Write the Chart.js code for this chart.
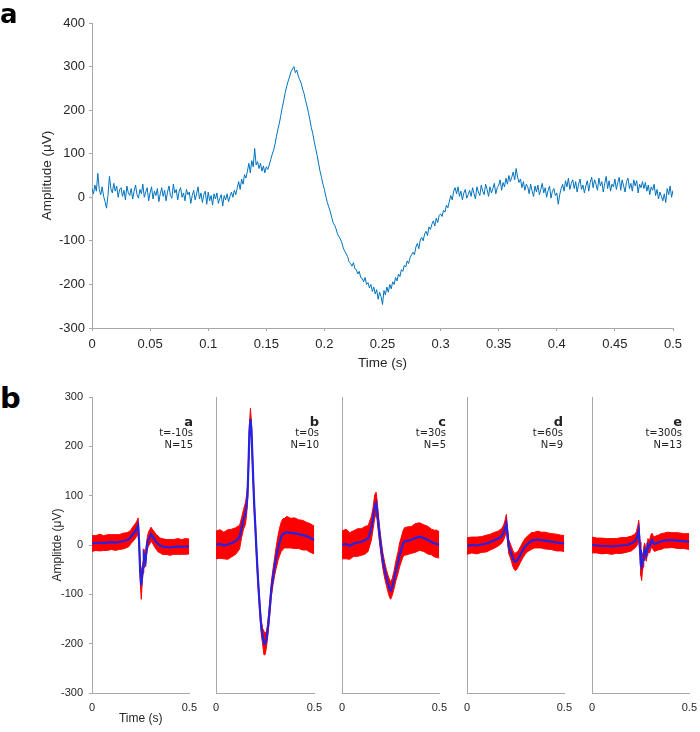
<!DOCTYPE html>
<html>
<head>
<meta charset="utf-8">
<script src="https://cdn.jsdelivr.net/npm/chart.js@4.4.1/dist/chart.umd.min.js"></script>
<style>
  body { margin: 0; background: #fff; }
  #page { position: relative; width: 700px; height: 732px; overflow: hidden; background: #fff; }
  canvas { position: absolute; }
  .panel { position: absolute; left: 0; font-family: "DejaVu Sans"; font-weight: bold; line-height: 1; color: #000; }
  .note { position: absolute; text-align: right; line-height: 1; color: #222; font-family: "DejaVu Sans"; white-space: nowrap; }
</style>
</head>
<body>
<div id="page">
  <canvas id="trace" width="700" height="375" style="left:0;top:0"></canvas>
  <div class="panel" style="top:1px;font-size:26px">a</div>
  <div class="panel" style="top:384px;font-size:29px">b</div>
</div>
<script>
"use strict";

// ---- panel a: single trace, one value every 1.25 ms ----
const sampleStep = 0.00125;
const traceValues = [
    20, 8, 28, 14, 55, 18, 6, 24, 2, -10, -25, 4, 48, 20, 10, 32, 14, 26, 0, 18,
    22, 2, 16, -6, 26, 10, 4, 20, -4, 14, 28, 6, -2, 18, 8, 30, 0, 12, 22, -8,
    10, 24, -4, 14, 4, 20, -10, 8, 22, 2, 16, -8, 12, 26, 4, -2, 30, 10, 18, -6,
    14, 22, 0, 10, -8, 18, 6, 12, -14, 4, 16, -6, 8, 24, -4, 10, -12, 6, 14, -16,
    12, -8, 4, -18, 8, -4, 10, -14, -2, 6, -20, 4, -6, 8, -10, 2, 12, 0, 16, 6,
    22, 36, 18, 42, 30, 52, 44, 60, 78, 56, 84, 70, 112, 74, 82, 66, 78, 60, 72, 56,
    70, 64, 74, 86, 98, 108, 122, 140, 156, 170, 188, 206, 222, 240, 254, 266, 276, 288, 294, 300,
    286, 292, 278, 270, 262, 248, 238, 222, 210, 194, 178, 160, 146, 128, 112, 96, 78, 60, 46, 30,
    18, 2, -12, -22, -32, -46, -58, -64, -72, -84, -90, -96, -104, -116, -124, -130, -136, -148, -152, -158,
    -150, -164, -166, -176, -170, -184, -186, -194, -184, -200, -196, -208, -200, -216, -206, -222, -212, -234, -218, -228,
    -246, -214, -224, -206, -218, -200, -210, -194, -200, -184, -192, -176, -182, -166, -170, -156, -160, -146, -152, -138,
    -132, -126, -132, -114, -106, -118, -98, -92, -100, -84, -78, -88, -68, -74, -62, -54, -66, -48, -58, -42,
    -38, -44, -30, -34, -18, -24, -10, 4, -6, 14, 22, 8, 24, 2, 14, -6, 10, 18, -2, 6,
    16, 2, 22, 8, -4, 24, 12, 4, 28, 14, 6, 30, 18, 2, 24, 10, 20, 32, 8, 22,
    28, 40, 16, 34, 24, 44, 30, 50, 36, 46, 58, 40, 66, 46, 34, 42, 22, 36, 16, 30,
    24, 8, 30, 14, 2, 26, 12, 28, 6, 18, 32, 10, 22, 0, 16, 26, -2, 14, 20, 4,
    10, -16, 6, 20, 30, 14, 38, 24, 44, 18, 32, 40, 20, 36, 12, 30, 42, 18, 28, 10,
    26, 38, 14, 34, 46, 22, 40, 30, 16, 44, 26, 36, 12, 32, 48, 20, 38, 14, 30, 24,
    42, 18, 34, 46, 16, 40, 26, 12, 36, 44, 20, 32, 14, 40, 26, 38, 10, 30, 22, 36,
    20, 34, 14, 28, 6, 24, 16, 30, 4, 18, -4, 12, 2, -8, 8, -12, 20, 6, 26, 0,
    16
];
const traceTimeTicks = [0, 0.05, 0.1, 0.15, 0.2, 0.25, 0.3, 0.35, 0.4, 0.45, 0.5];
const traceAmpTicks = [-300, -200, -100, 0, 100, 200, 300, 400];

// ---- panel b: five recordings, envelope (mean +/- spread) and mean ----
const unitNames = ['a', 'b', 'c', 'd', 'e'];
const unitTimeLabels = ['t=-10s', 't=0s', 't=30s', 't=60s', 't=300s'];
const unitCountLabels = ['N=15', 'N=10', 'N=5', 'N=9', 'N=13'];

const unitATimes = [0, 0.02, 0.04, 0.06, 0.08, 0.1, 0.12, 0.14, 0.16, 0.18, 0.19, 0.2, 0.21, 0.22, 0.23, 0.237, 0.242, 0.247, 0.253, 0.258, 0.262, 0.266, 0.27, 0.275, 0.28, 0.285, 0.29, 0.296, 0.303, 0.31, 0.32, 0.33, 0.34, 0.35, 0.36, 0.38, 0.4, 0.42, 0.44, 0.46, 0.48, 0.5];
const unitAMean = [3, 4, 5, 4, 5, 6, 5, 6, 8, 10, 12, 17, 22, 27, 33, 40, 5, -50, -82, -60, -45, -20, -25, -32, -8, 5, 12, 16, 22, 18, 12, 6, 2, -1, -3, -4, -5, -4, -3, -4, -3, -3];
const unitASpread = [16, 15, 17, 15, 16, 15, 16, 15, 16, 15, 15, 14, 15, 15, 15, 15, 15, 20, 28, 15, 12, 12, 12, 12, 13, 13, 14, 15, 14, 14, 15, 15, 16, 15, 16, 15, 16, 15, 16, 15, 16, 15];

const unitBTimes = [0, 0.02, 0.04, 0.06, 0.08, 0.1, 0.12, 0.13, 0.14, 0.15, 0.155, 0.16, 0.165, 0.17, 0.175, 0.18, 0.185, 0.19, 0.195, 0.2, 0.205, 0.21, 0.215, 0.22, 0.225, 0.23, 0.237, 0.244, 0.25, 0.256, 0.262, 0.268, 0.275, 0.281, 0.29, 0.298, 0.306, 0.315, 0.323, 0.332, 0.34, 0.348, 0.36, 0.38, 0.4, 0.42, 0.44, 0.46, 0.48, 0.5];
const unitBMean = [0, 2, -1, 1, 4, 8, 16, 35, 52, 64, 80, 100, 160, 230, 255, 235, 180, 125, 75, 37, -5, -44, -80, -111, -140, -166, -185, -199, -200, -193, -175, -152, -120, -91, -64, -44, -25, -7, 6, 17, 22, 24, 26, 24, 24, 22, 20, 18, 14, 10];
const unitBSpread = [28, 29, 27, 30, 28, 27, 24, 20, 20, 22, 20, 18, 15, 14, 22, 16, 14, 12, 12, 12, 12, 12, 12, 12, 12, 14, 16, 24, 22, 16, 14, 14, 14, 15, 16, 18, 22, 25, 28, 30, 31, 30, 32, 30, 31, 29, 30, 28, 29, 28];

const unitCTimes = [0, 0.02, 0.04, 0.06, 0.08, 0.1, 0.12, 0.134, 0.151, 0.16, 0.168, 0.175, 0.18, 0.185, 0.193, 0.202, 0.21, 0.219, 0.228, 0.236, 0.244, 0.25, 0.258, 0.267, 0.277, 0.287, 0.296, 0.304, 0.313, 0.321, 0.34, 0.355, 0.375, 0.398, 0.42, 0.44, 0.46, 0.474, 0.49, 0.5];
const unitCMean = [0, 2, -2, 3, 5, 6, 10, 13, 34, 55, 78, 85, 72, 51, 20, -10, -32, -51, -66, -78, -88, -92, -85, -71, -52, -37, -20, -10, 2, 7, 9, 10, 14, 17, 14, 10, 6, 3, 2, 0];
const unitCSpread = [28, 30, 27, 26, 28, 27, 28, 26, 24, 22, 24, 22, 20, 18, 16, 16, 16, 16, 16, 17, 18, 18, 17, 18, 20, 22, 24, 25, 26, 28, 28, 27, 29, 28, 27, 28, 26, 27, 28, 26];

const unitDTimes = [0, 0.025, 0.05, 0.075, 0.1, 0.12, 0.143, 0.16, 0.177, 0.188, 0.196, 0.202, 0.208, 0.214, 0.221, 0.228, 0.236, 0.245, 0.253, 0.262, 0.275, 0.287, 0.3, 0.313, 0.33, 0.347, 0.365, 0.381, 0.4, 0.432, 0.46, 0.48, 0.5];
const unitDMean = [-2, 0, -1, 1, 3, 6, 10, 13, 18, 25, 35, 44, 22, -3, -10, -18, -28, -34, -33, -29, -19, -10, -2, 3, 8, 10, 11, 10, 9, 7, 5, 4, 3];
const unitDSpread = [17, 16, 17, 16, 17, 16, 16, 15, 15, 15, 16, 18, 14, 14, 14, 15, 16, 17, 18, 16, 16, 16, 16, 16, 17, 16, 17, 16, 17, 16, 17, 16, 16];

const unitETimes = [0, 0.025, 0.05, 0.075, 0.1, 0.125, 0.15, 0.175, 0.202, 0.22, 0.228, 0.236, 0.24, 0.244, 0.247, 0.251, 0.255, 0.259, 0.262, 0.266, 0.27, 0.275, 0.279, 0.283, 0.287, 0.292, 0.296, 0.302, 0.308, 0.315, 0.321, 0.34, 0.355, 0.37, 0.389, 0.41, 0.44, 0.47, 0.5];
const unitEMean = [0, -1, -2, -2, -3, -2, -1, 0, 3, 8, 12, 22, 30, 8, -10, -40, -44, -35, -30, -18, -10, -16, -20, -8, 0, -3, -3, 6, 10, 4, 2, 5, 7, 9, 10, 10, 9, 8, 7];
const unitESpread = [16, 15, 16, 15, 16, 15, 16, 15, 15, 14, 15, 18, 20, 16, 16, 22, 28, 18, 15, 14, 14, 13, 13, 13, 13, 13, 13, 14, 14, 14, 15, 15, 16, 15, 16, 15, 16, 15, 16];

const unitTimeTicks = [0, 0.5];
const unitAmpTicks = [-300, -200, -100, 0, 100, 200, 300];

// ---- layout (pixels) ----
const unitAxisLeft = [92, 216, 342, 467, 592];
const unitAxisRight = [190, 315, 440, 565, 690];
const unitNoteRight = [193, 319, 446, 563, 682];

const axisGrey = '#a8a8a8';
const textGrey = '#262626';
const traceBlue = '#0072bd';
const bandRed = '#ff0000';
const meanBlue = 'rgb(35,35,225)';

Chart.defaults.font.family = '"Liberation Sans", Arial, sans-serif';
Chart.defaults.color = textGrey;

function fixedTicks(values) {
    return scale => { scale.ticks = values.map(v => ({value: v})); };
}

function toPoints(times, values) {
    return times.map((t, k) => ({x: t, y: values[k]}));
}

const traceTimes = traceValues.map((v, i) => i * sampleStep);

new Chart(document.getElementById('trace'), {
    type: 'line',
    data: {
        datasets: [{
            data: toPoints(traceTimes, traceValues),
            borderColor: traceBlue,
            borderWidth: 1,
            pointRadius: 0,
            tension: 0
        }]
    },
    options: {
        responsive: false,
        animation: false,
        devicePixelRatio: 1,
        layout: {padding: {left: 35, right: 27, top: 23, bottom: 0}},
        plugins: {legend: {display: false}, tooltip: {enabled: false}},
        scales: {
            x: {
                type: 'linear', min: 0, max: 0.5,
                afterBuildTicks: fixedTicks(traceTimeTicks),
                afterFit: s => { s.height = 47; },
                ticks: {callback: v => String(v), font: {size: 13}, padding: 6, maxRotation: 0, autoSkip: false},
                grid: {drawOnChartArea: false, tickLength: 3, color: axisGrey},
                border: {color: axisGrey},
                title: {display: true, text: 'Time (s)', font: {size: 13.5}}
            },
            y: {
                type: 'linear', min: -300, max: 400,
                afterBuildTicks: fixedTicks(traceAmpTicks),
                afterFit: s => { s.width = 57; },
                ticks: {callback: v => String(v), font: {size: 13}, padding: 4, autoSkip: false},
                grid: {drawOnChartArea: false, tickLength: 3, color: axisGrey},
                border: {color: axisGrey},
                title: {display: true, text: 'Amplitude (μV)', font: {size: 13.5}}
            }
        }
    }
});

const unitSeries = [
    [unitATimes, unitAMean, unitASpread],
    [unitBTimes, unitBMean, unitBSpread],
    [unitCTimes, unitCMean, unitCSpread],
    [unitDTimes, unitDMean, unitDSpread],
    [unitETimes, unitEMean, unitESpread]
];

const page = document.getElementById('page');

function addNote(text, right, top, size, bold) {
    const div = document.createElement('div');
    div.className = 'note';
    div.textContent = text;
    div.style.right = (700 - right) + 'px';
    div.style.top = top + 'px';
    div.style.fontSize = size + 'px';
    if (bold) div.style.fontWeight = 'bold';
    page.appendChild(div);
}

unitSeries.forEach(([times, mean, spread], i) => {
    const first = i === 0;
    const padLeft = first ? 46 : 12;
    const axisWidth = first ? 46 : 0;
    const left = unitAxisLeft[i] - padLeft - axisWidth;
    const width = unitAxisRight[i] - left + 15;

    const canvas = document.createElement('canvas');
    canvas.width = width;
    canvas.height = 352;
    canvas.style.left = left + 'px';
    canvas.style.top = '380px';
    page.appendChild(canvas);

    const upper = times.map((t, k) => ({x: t, y: mean[k] + spread[k]}));
    const lower = times.map((t, k) => ({x: t, y: mean[k] - spread[k]}));

    new Chart(canvas, {
        type: 'line',
        data: {
            datasets: [
                {data: upper, borderColor: bandRed, borderWidth: 1, pointRadius: 0, fill: false, order: 2},
                {data: lower, borderColor: bandRed, borderWidth: 1, pointRadius: 0, backgroundColor: bandRed, fill: '-1', order: 1},
                {data: toPoints(times, mean), borderColor: meanBlue, borderWidth: 2.2, pointRadius: 0, fill: false, order: 0}
            ]
        },
        options: {
            responsive: false,
            animation: false,
            devicePixelRatio: 1,
            layout: {padding: {left: padLeft, right: 15, top: 17, bottom: 2}},
            plugins: {legend: {display: false}, tooltip: {enabled: false}},
            scales: {
                x: {
                    type: 'linear', min: 0, max: 0.5,
                    afterBuildTicks: fixedTicks(unitTimeTicks),
                    afterFit: s => { s.height = 37; },
                    ticks: {callback: v => String(v), font: {size: 11}, padding: 8, maxRotation: 0, autoSkip: false},
                    grid: {drawOnChartArea: false, drawTicks: false, color: axisGrey},
                    border: {color: axisGrey},
                    title: {display: first, text: 'Time (s)', font: {size: 12}}
                },
                y: {
                    type: 'linear', min: -300, max: 300,
                    afterBuildTicks: fixedTicks(unitAmpTicks),
                    afterFit: s => { s.width = axisWidth; },
                    ticks: {display: first, callback: v => String(v), font: {size: 11}, padding: 6, autoSkip: false},
                    grid: {drawOnChartArea: false, drawTicks: first, tickLength: 3, color: axisGrey},
                    border: {color: axisGrey},
                    title: {display: first, text: 'Amplitde (μV)', font: {size: 12}}
                }
            }
        }
    });

    addNote(unitNames[i], unitNoteRight[i], 415, 13, true);
    addNote(unitTimeLabels[i], unitNoteRight[i], 428, 10, false);
    addNote(unitCountLabels[i], unitNoteRight[i], 440, 10, false);
});
</script>
</body>
</html>
